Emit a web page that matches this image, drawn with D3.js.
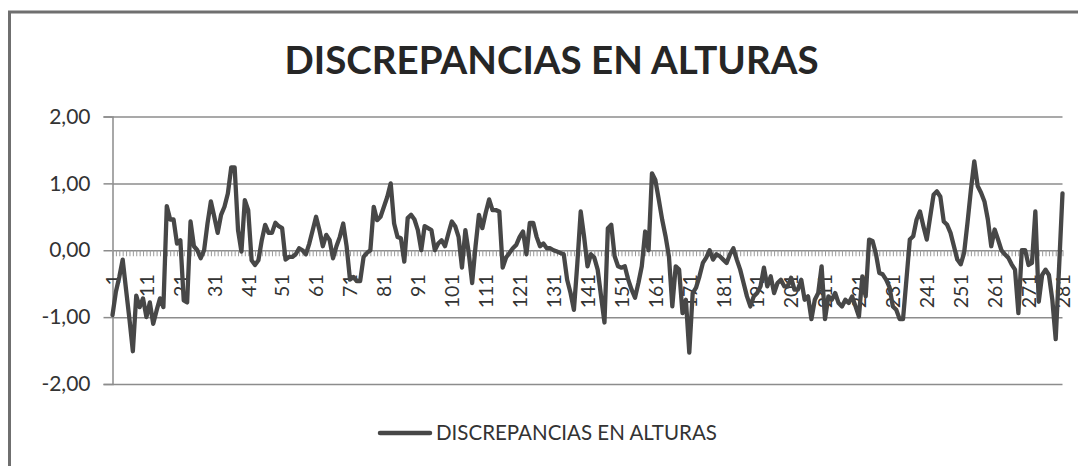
<!DOCTYPE html>
<html>
<head>
<meta charset="utf-8">
<script src="https://cdn.jsdelivr.net/npm/d3@7"></script>
<style>
  body { margin: 0; background: #fff; }
  svg { display: block; font-family: Lato, "Open Sans", sans-serif; }
</style>
</head>
<body>
<div id="chart"></div>
<script>
const title = "DISCREPANCIAS EN ALTURAS"
const seriesName = "DISCREPANCIAS EN ALTURAS"

// puntos 1..281
const categories = d3.range(1, 282)
const tickLabels = categories.filter(c => c % 10 === 1)
const yTicks = [-2, -1, 0, 1, 2]

const values = [
  -0.97, -0.62, -0.40, -0.14, -0.59, -1.03, -1.51, -0.68, -0.85, -0.72,   // 1-10
  -1.00, -0.78, -1.10, -0.90, -0.72, -0.85, 0.66, 0.46, 0.46, 0.10,       // 11-20
  0.15, -0.75, -0.78, 0.43, 0.06, 0.00, -0.12, 0.00, 0.40, 0.73,          // 21-30
  0.50, 0.26, 0.53, 0.65, 0.85, 1.24, 1.24, 0.30, -0.02, 0.75,            // 31-40
  0.60, -0.15, -0.22, -0.15, 0.15, 0.38, 0.26, 0.26, 0.41, 0.36,          // 41-50
  0.33, -0.14, -0.10, -0.10, -0.06, 0.03, 0.00, -0.06, 0.10, 0.30,        // 51-60
  0.50, 0.30, 0.06, 0.23, 0.15, -0.12, 0.06, 0.20, 0.40, 0.06,            // 61-70
  -0.44, -0.40, -0.46, -0.46, -0.10, -0.04, 0.00, 0.65, 0.45, 0.50,       // 71-80
  0.65, 0.80, 1.00, 0.40, 0.20, 0.18, -0.17, 0.48, 0.53, 0.46,            // 81-90
  0.30, 0.00, 0.36, 0.33, 0.30, 0.00, 0.10, 0.15, 0.06, 0.25,             // 91-100
  0.43, 0.36, 0.20, -0.26, 0.30, -0.04, -0.49, 0.06, 0.53, 0.33,          // 101-110
  0.56, 0.76, 0.60, 0.60, 0.58, -0.26, -0.11, -0.04, 0.03, 0.08,          // 111-120
  0.20, 0.28, -0.06, 0.41, 0.41, 0.20, 0.06, 0.10, 0.03, 0.03,            // 121-130
  0.00, -0.02, -0.04, -0.06, -0.44, -0.64, -0.89, -0.20, 0.58, 0.20,      // 131-140
  -0.24, -0.06, -0.11, -0.29, -0.69, -1.08, 0.33, 0.38, -0.09, -0.24,     // 141-150
  -0.26, -0.24, -0.44, -0.59, -0.71, -0.49, -0.24, 0.28, 0.00, 1.15,      // 151-160
  1.05, 0.76, 0.46, 0.21, -0.09, -0.84, -0.24, -0.29, -0.94, -0.74,       // 161-170
  -1.53, -0.64, -0.56, -0.39, -0.19, -0.11, 0.00, -0.14, -0.06, -0.09,    // 171-180
  -0.14, -0.19, -0.06, 0.03, -0.14, -0.29, -0.49, -0.69, -0.84, -0.69,    // 181-190
  -0.64, -0.54, -0.26, -0.54, -0.39, -0.64, -0.49, -0.44, -0.54, -0.54,   // 191-200
  -0.41, -0.59, -0.59, -0.44, -0.74, -0.69, -1.03, -0.74, -0.64, -0.24,   // 201-210
  -1.03, -0.69, -0.74, -0.64, -0.79, -0.84, -0.74, -0.79, -0.69, -0.84,   // 211-220
  -0.99, -0.39, -0.69, 0.16, 0.14, -0.05, -0.34, -0.36, -0.44, -0.55,     // 221-230
  -0.84, -0.89, -1.03, -1.03, -0.44, 0.16, 0.21, 0.46, 0.58, 0.36,        // 231-240
  0.16, 0.50, 0.83, 0.88, 0.80, 0.43, 0.38, 0.26, 0.06, -0.14,            // 241-250
  -0.21, -0.04, 0.41, 0.90, 1.33, 0.96, 0.86, 0.73, 0.46, 0.06,           // 251-260
  0.31, 0.16, 0.00, -0.06, -0.11, -0.21, -0.29, -0.94, 0.00, 0.00,        // 261-270
  -0.22, -0.19, 0.58, -0.77, -0.37, -0.29, -0.37, -0.74, -1.33, -0.25,    // 271-280
  0.85                                                                    // 281
]

const width = 1078, height = 466
const plotLeft = 112.5, plotRight = 1062.5, plotTop = 116.5, plotBottom = 384

const fmt = d3.formatLocale({ decimal: ",", thousands: ".", grouping: [3], currency: ["", ""], minus: "-" }).format(".2f")

const x = d3.scalePoint().domain(categories).range([plotLeft, plotRight])
const y = d3.scaleLinear().domain([-2, 2]).range([plotBottom, plotTop])

const svg = d3.select("#chart").append("svg")
    .attr("width", width)
    .attr("height", height)
    .attr("viewBox", [0, 0, width, height])

// marco exterior
svg.append("rect")
    .attr("x", 9.5).attr("y", 12)
    .attr("width", 1200).attr("height", 600)
    .attr("fill", "none")
    .attr("stroke", "#6f6f6f")
    .attr("stroke-width", 3)

svg.append("text")
    .attr("x", 551.5)
    .attr("y", 73.5)
    .attr("text-anchor", "middle")
    .attr("font-size", 38.5)
    .attr("font-weight", "bold")
    .attr("fill", "#262626")
    .text(title)

// eje y + lineas de division
svg.append("g")
    .attr("transform", `translate(${plotLeft},0)`)
    .call(d3.axisLeft(y).tickValues(yTicks).tickFormat(fmt).tickSize(9).tickPadding(13))
    .call(g => g.selectAll("text").attr("font-size", 21).attr("fill", "#333").attr("font-family", "Lato, sans-serif"))
    .call(g => g.selectAll(".tick line").attr("stroke", "#8c8c8c").attr("stroke-width", 1.5))
    .call(g => g.select(".domain").attr("stroke", "#8c8c8c").attr("stroke-width", 1.5))
    .call(g => g.selectAll(".tick").filter(d => d !== 0).append("line")
        .attr("x2", plotRight - plotLeft)
        .attr("stroke", "#8c8c8c")
        .attr("stroke-width", 1.5))

// eje x sobre el cero
svg.append("g")
    .attr("transform", `translate(0,${y(0)})`)
    .call(d3.axisBottom(x).tickValues(categories).tickSize(6).tickSizeOuter(0)
        .tickFormat(d => tickLabels.includes(d) ? d : ""))
    .call(g => g.select(".domain").attr("stroke", "#8c8c8c").attr("stroke-width", 1.5))
    .call(g => g.selectAll(".tick line").attr("stroke", "#9a9a9a").attr("stroke-width", 1))
    .call(g => g.selectAll("text")
        .attr("font-size", 19.5)
        .attr("font-family", "Lato, sans-serif")
        .attr("fill", "#333")
        .attr("text-anchor", "end")
        .attr("transform", "translate(0,24) rotate(-90)")
        .attr("x", 0).attr("y", 0).attr("dy", "0.35em"))

const line = d3.line()
    .x((d, i) => x(categories[i]))
    .y(d => y(d))

svg.append("path")
    .attr("fill", "none")
    .attr("stroke", "#474747")
    .attr("stroke-width", 4.3)
    .attr("stroke-linejoin", "round")
    .attr("stroke-linecap", "round")
    .attr("d", line(values))

// leyenda
const legend = svg.append("g").attr("transform", "translate(380,433)")
legend.append("line")
    .attr("x1", 0).attr("x2", 50)
    .attr("stroke", "#474747")
    .attr("stroke-width", 4.5)
    .attr("stroke-linecap", "round")
legend.append("text")
    .attr("x", 56)
    .attr("dy", "0.35em")
    .attr("font-size", 20.5)
    .attr("fill", "#333")
    .text(seriesName)
</script>
</body>
</html>
